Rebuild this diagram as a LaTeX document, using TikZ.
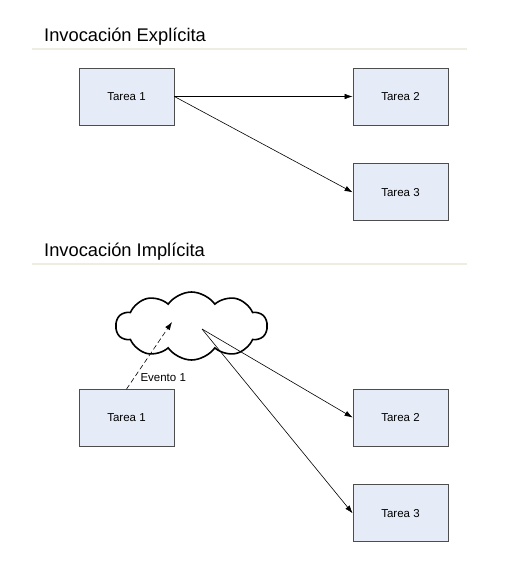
\documentclass[tikz,border=0pt]{standalone}
\usepackage{fontspec}
\setmainfont{Liberation Sans}
\usetikzlibrary{arrows.meta,positioning,shapes.symbols}
\definecolor{boxfill}{HTML}{E6ECF7}
\definecolor{boxline}{HTML}{4D4D4D}
\definecolor{rule}{HTML}{EDEDE2}

\begin{document}
\begin{tikzpicture}[x=1pt, y=-1pt,
  node distance=38pt,
  tarea/.style={draw=boxline, line width=0.8pt, fill=boxfill, inner sep=0pt,
                minimum width=95pt, minimum height=57pt, font=\fontsize{11.5}{13}\selectfont},
  titulo/.style={anchor=west, inner sep=0pt, font=\fontsize{18.3}{21}\selectfont},
  regla/.style={draw=rule, line width=1.5pt},
  nube/.style={cloud, cloud puffs=10, cloud puff arc=110, cloud ignores aspect, draw,
               line width=1.6pt, minimum width=151pt, minimum height=68pt, inner sep=0pt},
  arr/.style={-{Latex[length=8pt,width=5.5pt]}, line width=0.6pt}]
  \useasboundingbox (0,0) rectangle (519,564);
  % explicita
  \node[titulo] (tit1) at (44,37) {Invocación Explícita};
  \coordinate (r1a) at (32,49);
  \coordinate (r1b) at (467,49);
  \draw[regla] (r1a) -- (r1b);
  \node[tarea] (e1) at (126.5,96.5) {Tarea 1};
  \node[tarea] (e2) at (400.5,96.5) {Tarea 2};
  \node[tarea, below=of e2] (e3) {Tarea 3};
  \draw[arr] (e1.east) -- (e2.west);
  \draw[arr] (e1.east) -- (e3.west);
  % implicita
  \node[titulo] (tit2) at (44,252) {Invocación Implícita};
  \coordinate (r2a) at (32,264);
  \coordinate (r2b) at (467,264);
  \draw[regla] (r2a) -- (r2b);
  \node[nube] (bus) at (191.5,326) {};
  \coordinate (ev) at ([shift={(-19.5,-4)}]bus.center);
  \coordinate (sal) at ([shift={(10.5,3)}]bus.center);
  \node[tarea] (i1) at (126.5,418) {Tarea 1};
  \node[tarea] (i2) at (400.5,417.5) {Tarea 2};
  \node[tarea, below=of i2] (i3) {Tarea 3};
  \draw[arr, dash pattern=on 5pt off 3pt] (i1.north) -- node[pos=0.17, right=6pt, inner sep=0pt,
    font=\fontsize{11.5}{13}\selectfont] (lbl) {Evento 1} (ev);
  \draw[arr] (sal) -- (i2.west);
  \draw[arr] (sal) -- (i3.west);
\end{tikzpicture}
\end{document}
